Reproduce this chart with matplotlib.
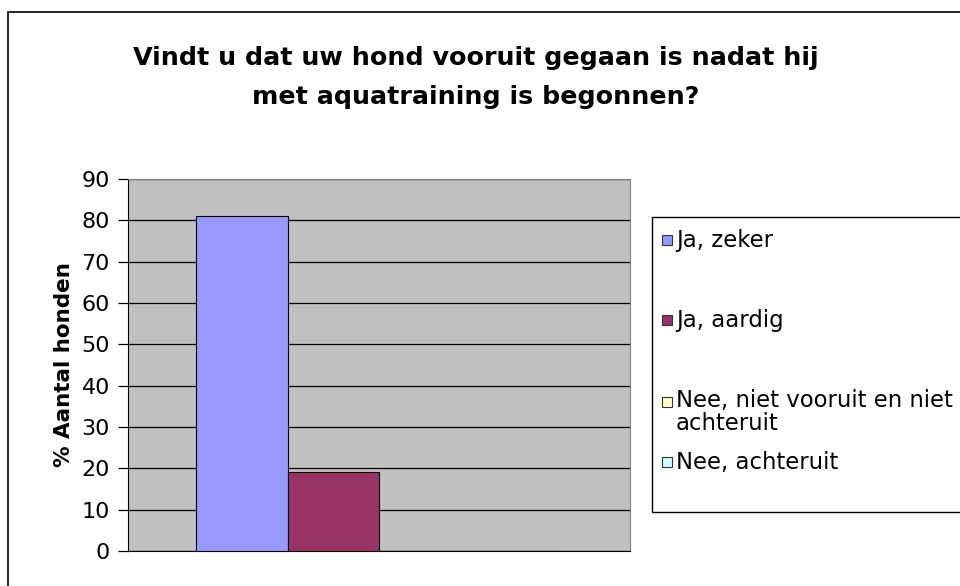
import matplotlib
matplotlib.use('Agg')
import matplotlib.pyplot as plt
from matplotlib.patches import Rectangle

# the reference text is wide, DejaVu Sans fits its proportions better than Arial
plt.rcParams['font.family'] = ['DejaVu Sans']

title = 'Vindt u dat uw hond vooruit gegaan is nadat hij\nmet aquatraining is begonnen?'
categories = ['Ja, zeker', 'Ja, aardig', 'Nee, niet vooruit en niet\nachteruit', 'Nee, achteruit']
values = [81, 19, 0, 0]
colors = ['#9999FF', '#993366', '#FFFFCC', '#CCFFFF']
yticks = [0, 10, 20, 30, 40, 50, 60, 70, 80, 90]

W, H = 960, 586
fig = plt.figure(figsize=(W / 100, H / 100), dpi=100)


def fx(px):
    return px / W


def fy(py):
    return 1 - py / H


# outer chart frame (runs off right and bottom edge)
fig.patches.append(Rectangle((fx(8), fy(700)), fx(1100), fy(12) - fy(700),
                             transform=fig.transFigure, fill=False,
                             edgecolor='black', linewidth=1.2))

ax = fig.add_axes([fx(128), fy(551), fx(630) - fx(128), fy(179) - fy(551)])
ax.set_facecolor('#C0C0C0')

# 4 bars in one category, gap width 150%
w = 1 / 5.5
for i, (v, c) in enumerate(zip(values, colors)):
    x = -0.5 + 0.75 * w + i * w
    ax.bar(x, v, width=w, align='edge', color=c, edgecolor='black', linewidth=0.8, zorder=3)

ax.set_xlim(-0.5, 0.5)
ax.set_ylim(0, 90)
ax.set_yticks(yticks)
ax.set_xticks([])
ax.yaxis.grid(True, color='black', linewidth=0.9, zorder=1)
ax.set_axisbelow(True)
for s in ['top', 'right']:
    ax.spines[s].set_color('#808080')
ax.spines['left'].set_color('black')
ax.spines['bottom'].set_color('black')
ax.tick_params(axis='y', labelsize=16, length=7, width=0.9, pad=6)
ax.set_ylabel('% Aantal honden', fontsize=15.5, fontweight='bold', labelpad=5)

fig.text(fx(476), fy(77.5), title, ha='center', va='center', fontsize=18.3,
         fontweight='bold', linespacing=1.78)

# legend box (runs off right edge)
fig.patches.append(Rectangle((fx(652), fy(512)), fx(400), fy(217) - fy(512),
                             transform=fig.transFigure, fill=False,
                             edgecolor='black', linewidth=1))
leg_y = [240, 320, 412, 462]
for lab, c, y in zip(categories, colors, leg_y):
    first_line_y = y - 10 if '\n' in lab else y
    fig.patches.append(Rectangle((fx(662), fy(first_line_y + 5)), fx(10), fy(first_line_y - 5) - fy(first_line_y + 5),
                                 transform=fig.transFigure, facecolor=c,
                                 edgecolor='#333333', linewidth=0.8))
    fig.text(fx(676), fy(y), lab, ha='left', va='center', fontsize=16.4, linespacing=1.0)

fig.savefig('out.png', dpi=100)
